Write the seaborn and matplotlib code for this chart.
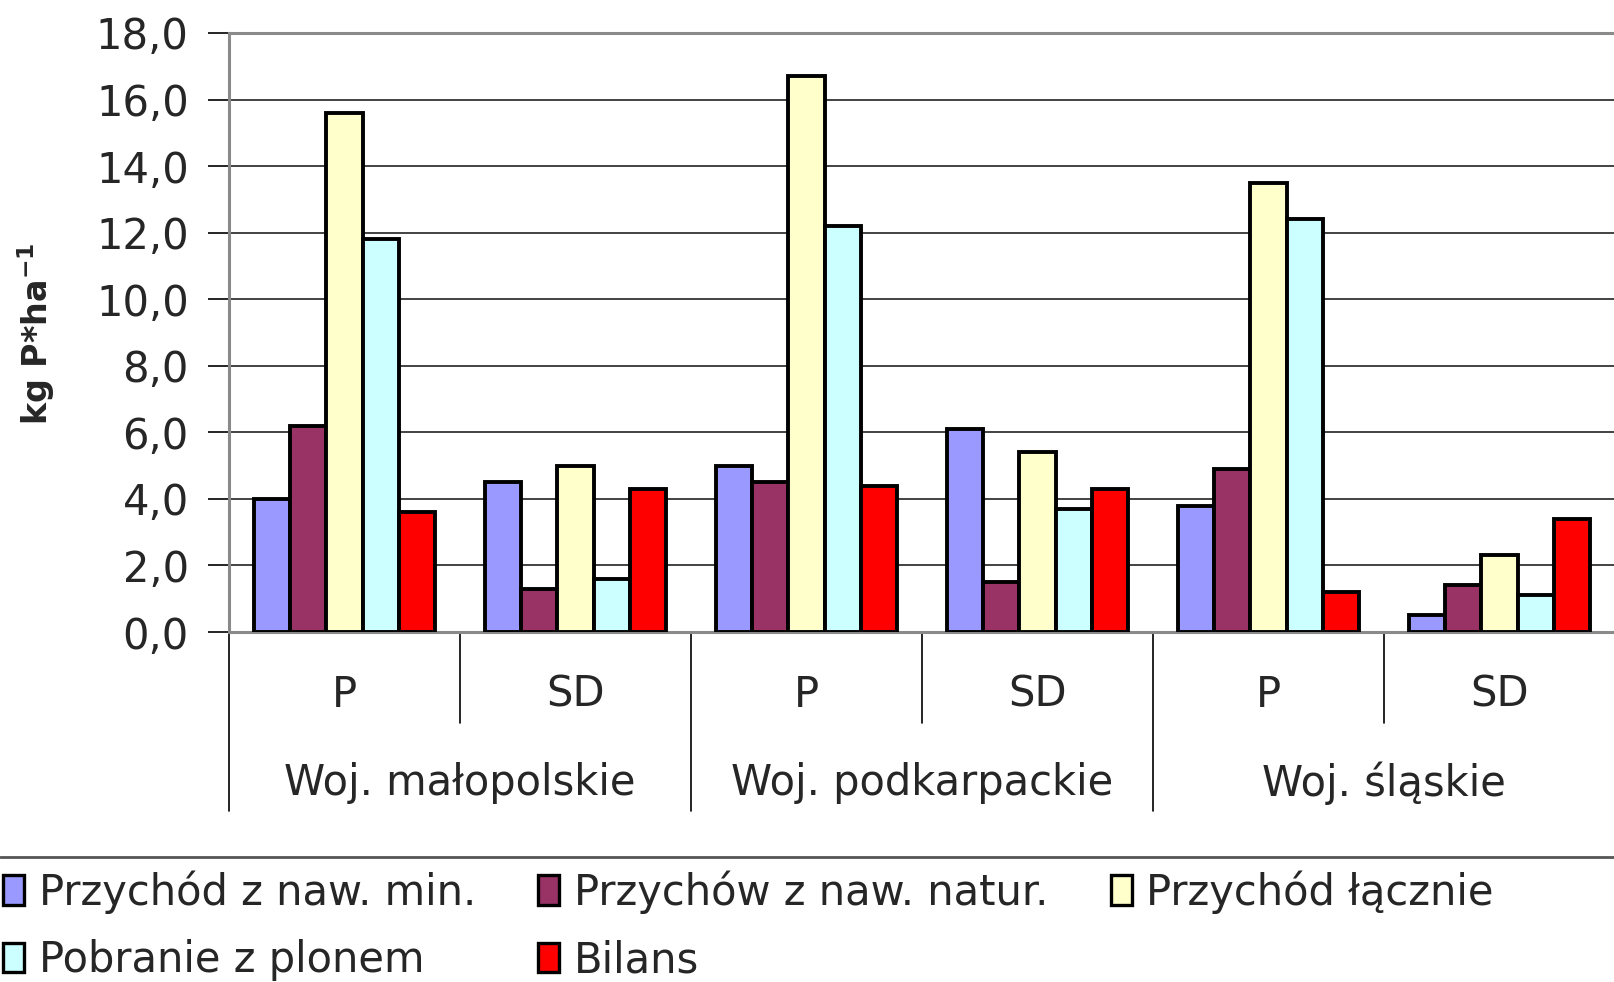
import pandas as pd
import seaborn as sns
import matplotlib.pyplot as plt
from matplotlib.lines import Line2D
from matplotlib.patches import Patch
import matplotlib.transforms as mtransforms

# categories on the x axis
voivodeships = ['Woj. małopolskie', 'Woj. podkarpackie', 'Woj. śląskie']
subgroups = ['P', 'SD']

series = ['Przychód z naw. min.', 'Przychów z naw. natur.', 'Przychód łącznie',
          'Pobranie z plonem', 'Bilans']
colors = ['#9999FF', '#993366', '#FFFFCC', '#CCFFFF', '#FF0000']

# values, kg P/ha, order: mał P, mał SD, podk P, podk SD, śl P, śl SD
naw_min = [4.0, 4.5, 5.0, 6.1, 3.8, 0.5]
naw_natur = [6.2, 1.3, 4.5, 1.5, 4.9, 1.4]
lacznie = [15.6, 5.0, 16.7, 5.4, 13.5, 2.3]
pobranie = [11.8, 1.6, 12.2, 3.7, 12.4, 1.1]
bilans = [3.6, 4.3, 4.4, 4.3, 1.2, 3.4]

yticks = [0, 2, 4, 6, 8, 10, 12, 14, 16, 18]

cat_ids = [f'{v}|{s}' for v in voivodeships for s in subgroups]
rows = []
for name, vals in zip(series, [naw_min, naw_natur, lacznie, pobranie, bilans]):
    for c, v in zip(cat_ids, vals):
        rows.append({'cat': c, 'series': name, 'value': v})
df = pd.DataFrame(rows)

sns.set_style('white')
plt.rcParams['font.family'] = ['DejaVu Sans']
FS = 30

fig = plt.figure(figsize=(16.15, 9.82), dpi=100)
ax = fig.add_axes([229 / 1615, 1 - 632 / 982, 1 - 229 / 1615, (632 - 33) / 982])

sns.barplot(data=df, x='cat', y='value', hue='series', order=cat_ids,
            hue_order=series, palette=colors, width=0.78, edgecolor='black',
            linewidth=2.8, saturation=1, legend=False, ax=ax, zorder=3)

ax.set_xlim(-0.5, len(cat_ids) - 0.5)
ax.set_ylim(0, 18)
ax.set_yticks(yticks)
ax.set_yticklabels([f'{t:.1f}'.replace('.', ',') for t in yticks], fontsize=FS)
ax.yaxis.grid(True, color='#222222', linewidth=1.2, zorder=0)
ax.set_axisbelow(True)
ax.tick_params(axis='y', direction='out', length=15, width=1.2, color='black',
               left=True, pad=14)
ax.set_xticks([])
ax.set_xlabel('')
ax.set_ylabel('')
for side in ['left', 'top', 'bottom']:
    ax.spines[side].set_color('#8a8a8a')
    ax.spines[side].set_linewidth(2.2)
ax.spines['right'].set_visible(False)

# multi-level category labels
trans = mtransforms.blended_transform_factory(ax.transData, ax.transAxes)
for i, c in enumerate(cat_ids):
    ax.text(i, -0.105, c.split('|')[1], transform=trans, ha='center',
            va='center', fontsize=FS)
for j, v in enumerate(voivodeships):
    ax.text(2 * j + 0.5, -0.252, v, transform=trans, ha='center',
            va='center', fontsize=FS)
for k in range(len(cat_ids)):
    depth = -0.298 if k % 2 == 0 else -0.152
    ax.add_line(Line2D([k - 0.5, k - 0.5], [0, depth], transform=trans,
                       color='black', linewidth=1.2, clip_on=False))

fig.text(36 / 1615, 1 - 334 / 982, r'kg P*ha$^{\mathbf{-1}}$', rotation=90,
         ha='center', va='center', fontsize=24, fontweight='bold')

# line above the legend
fig.add_artist(Line2D([0, 1], [1 - 857 / 982, 1 - 857 / 982],
                      transform=fig.transFigure, color='#555555', linewidth=2))

handles = [Patch(facecolor=c, edgecolor='black', linewidth=2.4, label=s)
           for c, s in zip(colors, series)]
order = [0, 3, 1, 4, 2]
fig.legend([handles[i] for i in order], [series[i] for i in order],
           loc='upper left', bbox_to_anchor=(0.002, 1 - 870 / 982), ncol=3,
           frameon=False, fontsize=FS, handlelength=0.5, handleheight=0.7,
           handletextpad=0.35, columnspacing=1.5, labelspacing=0.62,
           borderaxespad=0, borderpad=0)

fig.savefig('out.png', dpi=100)
